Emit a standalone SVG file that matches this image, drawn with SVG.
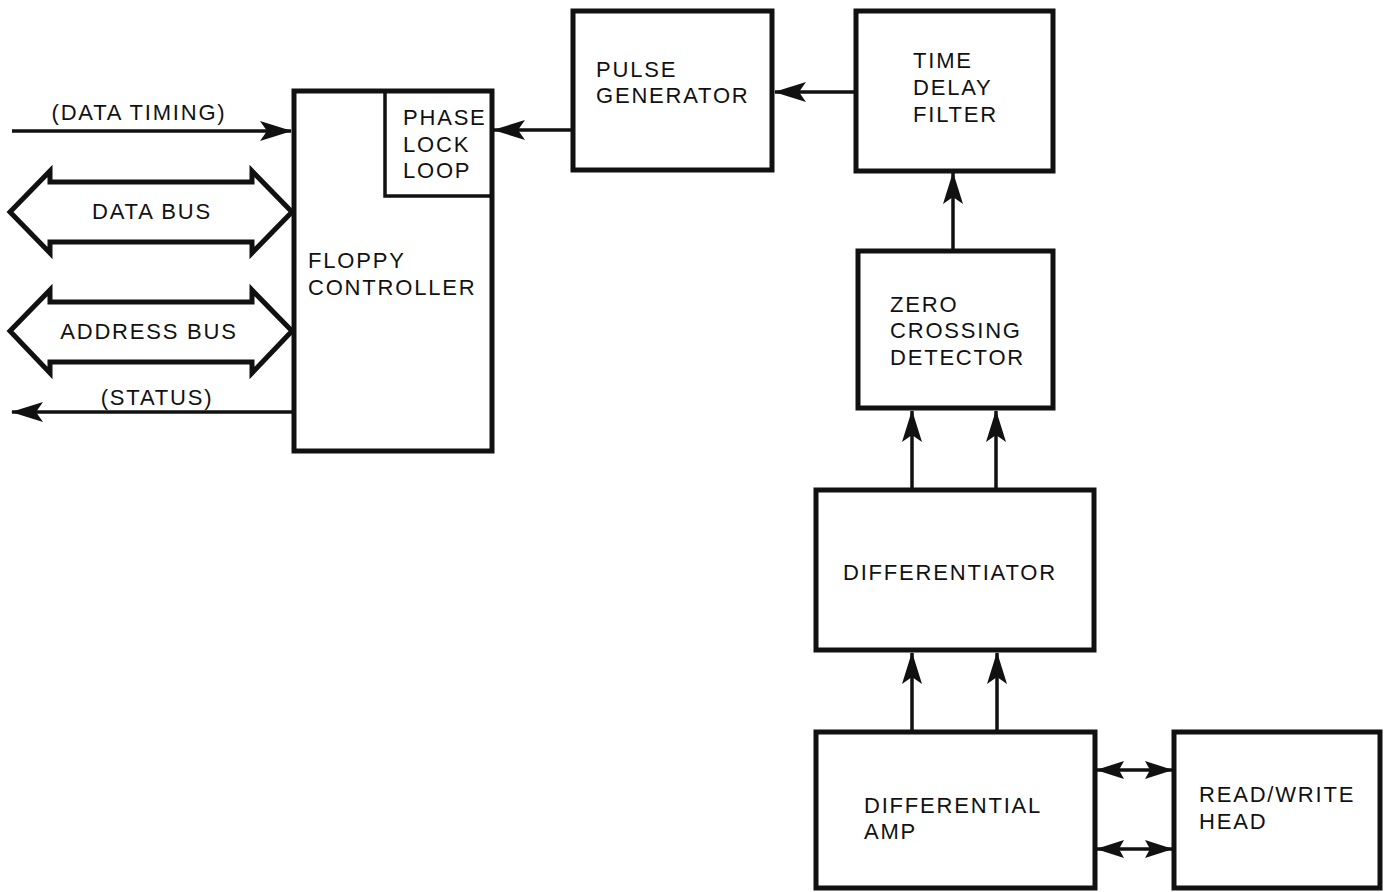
<svg xmlns="http://www.w3.org/2000/svg" width="1385" height="892" viewBox="0 0 1385 892">
<style>
.box{fill:#fff;stroke:#111;stroke-width:5}
.thin{fill:none;stroke:#111;stroke-width:3.5}
.ln{fill:none;stroke:#111;stroke-width:3.5}
.bus{fill:#fff;stroke:#111;stroke-width:5;stroke-linejoin:miter}
text{font-family:"Liberation Sans",Arial,sans-serif;font-size:22px;letter-spacing:1.8px;fill:#111}
</style>
<defs>
<marker id="ah" viewBox="0 0 32 20" refX="31" refY="10" markerWidth="32" markerHeight="20" markerUnits="userSpaceOnUse" orient="auto-start-reverse">
<path d="M0,0 L32,10 L0,20 L7,10 Z" fill="#111"/>
</marker>
<marker id="ah2" viewBox="0 0 28 18" refX="27" refY="9" markerWidth="28" markerHeight="18" markerUnits="userSpaceOnUse" orient="auto-start-reverse">
<path d="M0,0 L28,9 L0,18 L5,9 Z" fill="#111"/>
</marker>
</defs>
<rect width="1385" height="892" fill="#fff"/>
<g id="connectors">
<line class="ln" x1="12" y1="131" x2="291" y2="131" marker-end="url(#ah)"/>
<line class="ln" x1="293" y1="412" x2="12" y2="412" marker-end="url(#ah)"/>
<line class="ln" x1="572" y1="130" x2="494" y2="130" marker-end="url(#ah)"/>
<line class="ln" x1="855" y1="92" x2="775" y2="92" marker-end="url(#ah)"/>
<line class="ln" x1="953" y1="250" x2="953" y2="173" marker-end="url(#ah)"/>
<line class="ln" x1="912" y1="489" x2="912" y2="411" marker-end="url(#ah)"/>
<line class="ln" x1="996" y1="489" x2="996" y2="411" marker-end="url(#ah)"/>
<line class="ln" x1="912" y1="731" x2="912" y2="653" marker-end="url(#ah)"/>
<line class="ln" x1="997" y1="731" x2="997" y2="653" marker-end="url(#ah)"/>
<line class="ln" x1="1097" y1="770" x2="1172" y2="770" marker-start="url(#ah2)" marker-end="url(#ah2)"/>
<line class="ln" x1="1097" y1="849" x2="1172" y2="849" marker-start="url(#ah2)" marker-end="url(#ah2)"/>
</g>
<g id="data-bus">
<polygon class="bus" points="10,212 50,171 50,182 252,182 252,171 292,212 252,253 252,242 50,242 50,253"/>
<text x="152" y="219" text-anchor="middle">DATA BUS</text>
</g>
<g id="address-bus">
<polygon class="bus" points="10,331 50,290 50,302 252,302 252,290 292,331 252,373 252,362 50,362 50,373"/>
<text x="149" y="339" text-anchor="middle">ADDRESS BUS</text>
</g>
<g id="labels">
<text x="139" y="120" text-anchor="middle">(DATA TIMING)</text>
<text x="157" y="405" text-anchor="middle">(STATUS)</text>
</g>
<g id="floppy-controller">
<rect class="box" x="294" y="91" width="198" height="360"/>
<text x="308" y="268">FLOPPY</text>
<text x="308" y="295">CONTROLLER</text>
</g>
<g id="phase-lock-loop">
<path class="thin" d="M385,92 V196 H492"/>
<text x="403" y="125">PHASE</text>
<text x="403" y="152">LOCK</text>
<text x="403" y="178">LOOP</text>
</g>
<g id="pulse-generator">
<rect class="box" x="573" y="11" width="199" height="159"/>
<text x="596" y="77">PULSE</text>
<text x="596" y="103">GENERATOR</text>
</g>
<g id="time-delay-filter">
<rect class="box" x="856" y="11" width="197" height="160"/>
<text x="913" y="68">TIME</text>
<text x="913" y="95">DELAY</text>
<text x="913" y="122">FILTER</text>
</g>
<g id="zero-crossing-detector">
<rect class="box" x="858" y="251" width="195" height="157"/>
<text x="890" y="312">ZERO</text>
<text x="890" y="338">CROSSING</text>
<text x="890" y="365">DETECTOR</text>
</g>
<g id="differentiator">
<rect class="box" x="816" y="490" width="278" height="160"/>
<text x="843" y="580">DIFFERENTIATOR</text>
</g>
<g id="differential-amp">
<rect class="box" x="816" y="732" width="279" height="156"/>
<text x="864" y="813">DIFFERENTIAL</text>
<text x="864" y="839">AMP</text>
</g>
<g id="read-write-head">
<rect class="box" x="1174" y="732" width="206" height="156"/>
<text x="1199" y="802">READ/WRITE</text>
<text x="1199" y="829">HEAD</text>
</g>
</svg>
